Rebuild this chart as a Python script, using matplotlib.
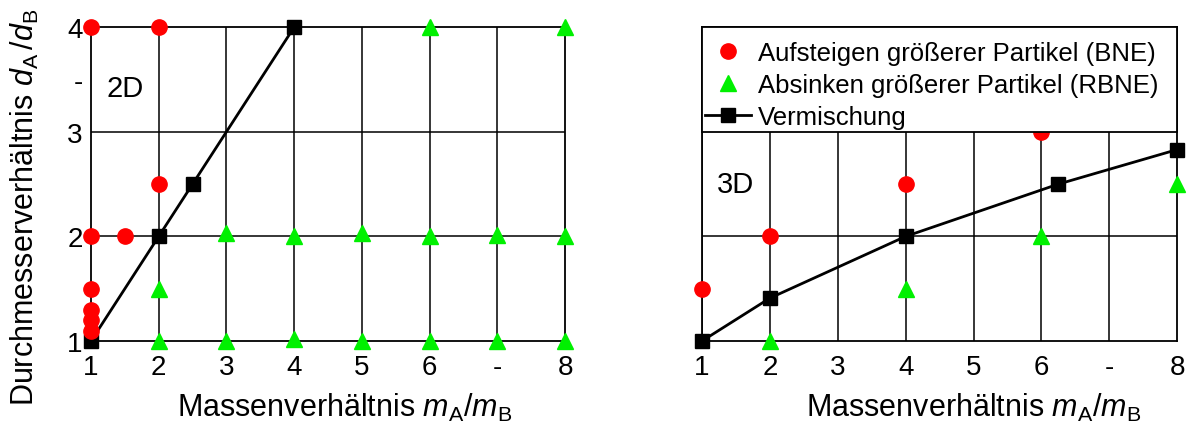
import matplotlib
matplotlib.use('Agg')
import matplotlib.pyplot as plt
from matplotlib.patches import Rectangle
from matplotlib.lines import Line2D

plt.rcParams['font.family'] = ['Liberation Sans', 'DejaVu Sans']
plt.rcParams['mathtext.fontset'] = 'custom'
plt.rcParams['mathtext.rm'] = 'Liberation Sans'
plt.rcParams['mathtext.it'] = 'Liberation Sans:italic'

# 2D-Simulationen
bne_2d_x = [1, 2, 2, 1, 1.5, 1, 1, 1, 1]
bne_2d_y = [4, 4, 2.5, 2, 2, 1.5, 1.3, 1.2, 1.1]
rbne_2d_x = [2, 2, 3, 4, 5, 6, 7, 8, 3, 4, 5, 6, 7, 8, 6, 8]
rbne_2d_y = [1.5, 1, 1, 1.02, 1, 1, 1, 1, 2.03, 2, 2.03, 2, 2.01, 2, 4, 4]
mix_2d_x = [1, 2, 2.5, 4]
mix_2d_y = [1, 2, 2.5, 4]

# 3D-Simulationen
bne_3d_x = [1, 2, 4, 6]
bne_3d_y = [1.5, 2, 2.5, 3]
rbne_3d_x = [2, 4, 6, 8]
rbne_3d_y = [1, 1.5, 2, 2.5]
mix_3d_x = [1, 2, 4, 6.25, 8]
mix_3d_y = [1, 1.41, 2, 2.5, 2.83]

x_ticks = [1, 2, 3, 4, 5, 6, 7, 8]
x_ticklabels = ['1', '2', '3', '4', '5', '6', '-', '8']
y_ticks = [1, 2, 3, 3.5, 4]
y_ticklabels = ['1', '2', '3', '-', '4']

RED = '#ff0000'
GREEN = '#00f000'

fig = plt.figure(figsize=(11.91, 4.27), dpi=100)
ax1 = fig.add_axes([0.0764, 0.199, 0.398, 0.735])
ax2 = fig.add_axes([0.5894, 0.199, 0.399, 0.735])


def style_axes(ax, hlines):
    ax.set_xlim(1, 8)
    ax.set_ylim(1, 4)
    for x in x_ticks[1:-1]:
        ax.axvline(x, color='black', lw=1.1, zorder=1)
    for y in hlines:
        ax.axhline(y, color='black', lw=1.1, zorder=1)
    for sp in ax.spines.values():
        sp.set_linewidth(1.3)
        sp.set_zorder(1)
    ax.set_xticks(x_ticks)
    ax.set_xticklabels(x_ticklabels)
    ax.tick_params(length=0, labelsize=20, pad=6)
    ax.tick_params(axis='x', pad=9)


def draw_series(ax, bx, by, rx, ry, mx, my):
    ax.plot(mx, my, color='black', lw=2, marker='s', ms=9.5, zorder=3, clip_on=False)
    ax.plot(bx, by, ls='none', marker='o', ms=11, color=RED, zorder=4, clip_on=False)
    ax.plot(rx, ry, ls='none', marker='^', ms=12, color=GREEN, zorder=4, clip_on=False)


xlabel = r'Massenverhältnis $m_{\mathrm{A}}/m_{\mathrm{B}}$'

# linkes Diagramm (2D)
style_axes(ax1, [2, 3])
draw_series(ax1, bne_2d_x, bne_2d_y, rbne_2d_x, rbne_2d_y, mix_2d_x, mix_2d_y)
ax1.set_yticks(y_ticks)
ax1.set_yticklabels(y_ticklabels)
ax1.text(1.5, 3.42, '2D', fontsize=21, ha='center', va='center')
ax1.set_xlabel(xlabel, fontsize=22)
ax1.xaxis.set_label_coords(0.536, -0.158)
ax1.set_ylabel(r'Durchmesserverhältnis $d_{\mathrm{A}}\,/d_{\mathrm{B}}$', fontsize=22)
ax1.yaxis.set_label_coords(-0.105, 0.43)

# rechtes Diagramm (3D)
style_axes(ax2, [2])
ax2.axvline(1, color='black', lw=1.1, zorder=1)
draw_series(ax2, bne_3d_x, bne_3d_y, rbne_3d_x, rbne_3d_y, mix_3d_x, mix_3d_y)
ax2.set_yticks([])
ax2.text(1.5, 2.5, '3D', fontsize=21, ha='center', va='center')
ax2.set_xlabel(xlabel, fontsize=22)
ax2.xaxis.set_label_coords(0.571, -0.158)

# Legendenfeld deckt den oberen Bereich ab
ax2.add_patch(Rectangle((0, 2 / 3), 1, 1 / 3, transform=ax2.transAxes,
                        facecolor='white', edgecolor='black', lw=1.3, zorder=5,
                        clip_on=False))
handles = [
    Line2D([], [], ls='none', marker='o', ms=11, color=RED),
    Line2D([], [], ls='none', marker='^', ms=12, color=GREEN),
    Line2D([], [], color='black', lw=2, marker='s', ms=9.5),
]
labels = ['Aufsteigen größerer Partikel (BNE)',
          'Absinken größerer Partikel (RBNE)',
          'Vermischung']
leg = ax2.legend(handles, labels, loc='upper left', bbox_to_anchor=(-0.026, 1.005),
                 frameon=False, fontsize=18.5, handlelength=1.8, handletextpad=0.27,
                 labelspacing=0.31, borderaxespad=0.2)
leg.set_zorder(6)

fig.savefig('out.png', dpi=100)
